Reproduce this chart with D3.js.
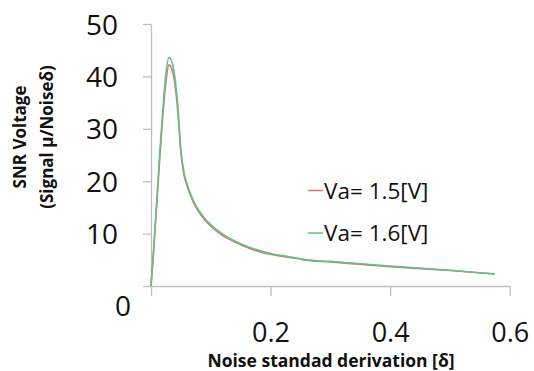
<!DOCTYPE html>
<html><head><meta charset="utf-8">
<script src="https://cdn.jsdelivr.net/npm/d3@7"></script>
<style>body{margin:0;background:#fff}</style>
</head><body>
<svg id="c" width="534" height="371"></svg>
<script>
const noiseX = [0, 0.005, 0.01, 0.015, 0.02, 0.025, 0.03, 0.035, 0.04, 0.045, 0.05, 0.055, 0.06, 0.07, 0.08, 0.09, 0.1, 0.12, 0.14, 0.16, 0.18, 0.2, 0.22, 0.25, 0.26, 0.3, 0.4, 0.5, 0.575];
const snr15 = [0, 7.6, 16.3, 25, 32.8, 39, 42.2, 41.3, 38.5, 33, 25.5, 21.3, 19.2, 16.2, 14.1, 12.6, 11.4, 9.6, 8.4, 7.4, 6.6, 6.05, 5.65, 5.1, 4.9, 4.6, 3.7, 2.95, 2.3];
const snr16 = [0, 8, 17, 26, 34, 40.5, 43.6, 42.8, 39.8, 34.2, 26, 21.8, 19.6, 16.5, 14.4, 12.9, 11.7, 9.9, 8.6, 7.6, 6.8, 6.2, 5.8, 5.2, 5.0, 4.7, 3.8, 3.0, 2.3];
const seriesNames = ["Va= 1.5[V]", "Va= 1.6[V]"];
const seriesColors = ["#e07070", "#5cc48a"];
const yTicks = [0, 10, 20, 30, 40, 50];
const xTicks = [0, 0.2, 0.4, 0.6];
const yTitle = ["SNR Voltage", "(Signal μ/Noiseδ)"];
const xTitle = "Noise standad derivation [δ]";

const svg = d3.select("#c");
const font = "'Open Sans', 'Noto Sans', sans-serif";
const x = d3.scaleLinear().domain([0, 0.6]).range([151, 509.7]);
const y = d3.scaleLinear().domain([0, 50]).range([286, 24]);
const gray = "#bfbfbf";

// Y axis
const gy = svg.append("g").attr("transform", `translate(${x(0)},0)`)
  .call(d3.axisLeft(y).tickValues(yTicks).tickSize(8).tickSizeOuter(0).tickPadding(25).tickFormat(d3.format("d")));
gy.select(".domain").attr("stroke", gray).attr("stroke-width", 1.3);
gy.selectAll(".tick line").attr("stroke", gray).attr("stroke-width", 1.3);
gy.selectAll(".tick text").attr("font-family", font).attr("font-size", 28).attr("fill", "#111")
  .attr("dy", "0.36em");
gy.selectAll(".tick text").filter(d => d === 0).attr("dx", 13).attr("dy", 29);

// X axis
const gx = svg.append("g").attr("transform", `translate(0,${y(0)})`)
  .call(d3.axisBottom(x).tickValues(xTicks).tickSize(10).tickSizeOuter(0).tickFormat(d => d === 0 ? "" : d3.format(".1f")(d)));
gx.select(".domain").attr("stroke", gray).attr("stroke-width", 1.3);
gx.selectAll(".tick line").attr("stroke", gray).attr("stroke-width", 1.3);
gx.selectAll(".tick text").attr("font-family", font).attr("font-size", 27).attr("fill", "#111")
  .attr("y", 46).attr("dy", "0.36em");

// Lines
const line = d3.line().x((d, i) => x(noiseX[i])).y(d => y(d)).curve(d3.curveMonotoneX);
[snr15, snr16].forEach((s, k) => {
  svg.append("path").datum(s).attr("d", line).attr("fill", "none")
    .attr("stroke", seriesColors[k]).attr("stroke-width", 1.6);
});

// Legend
const legY = [190.5, 233];
seriesNames.forEach((n, k) => {
  svg.append("line").attr("x1", 308).attr("x2", 323).attr("y1", legY[k]).attr("y2", legY[k])
    .attr("stroke", seriesColors[k]).attr("stroke-width", 1.5);
  svg.append("text").attr("x", 324).attr("y", legY[k]).attr("dy", "0.36em")
    .attr("font-family", font).attr("font-size", 22.5).attr("fill", "#111").text(n);
});

// Titles
const yt = svg.append("text").attr("transform", "translate(0,137) rotate(-90)")
  .attr("text-anchor", "middle").attr("font-family", font).attr("font-weight", "bold")
  .attr("font-size", 17).attr("fill", "#111");
yt.append("tspan").attr("x", 0).attr("y", 26).text(yTitle[0]);
yt.append("tspan").attr("x", 0).attr("y", 53).text(yTitle[1]);

svg.append("text").attr("x", 331).attr("y", 367).attr("text-anchor", "middle")
  .attr("font-family", font).attr("font-weight", "bold").attr("font-size", 17.5).attr("fill", "#111")
  .text(xTitle);
</script>
</body></html>
